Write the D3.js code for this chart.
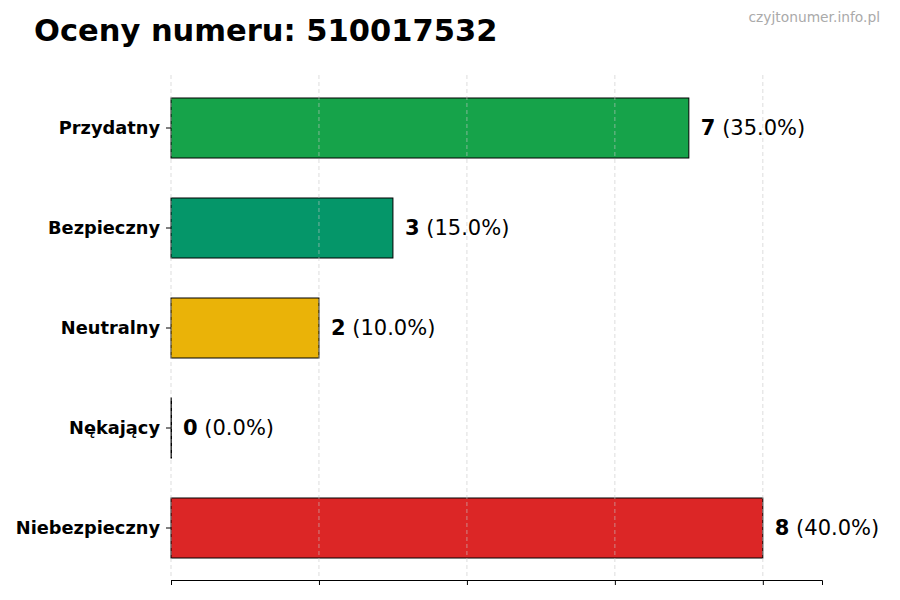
<!DOCTYPE html>
<html lang="pl">
<head>
<meta charset="UTF-8">
<title>Oceny numeru</title>
<script src="https://d3js.org/d3.v7.min.js"></script>
<style>
    body { margin: 0; background: #fff; font-family: "DejaVu Sans", sans-serif; }
    .grid line { stroke: #c8c8c8; stroke-dasharray: 4,3; stroke-width: 0.8; }
    .ylab { font-size: 17.8px; font-weight: bold; text-anchor: end; }
    .val { font-size: 21px; }
</style>
</head>
<body>
<svg id="chart" width="900" height="600"></svg>
<script>
    const categories = ["Przydatny", "Bezpieczny", "Neutralny", "Nękający", "Niebezpieczny"];
    const counts = [7, 3, 2, 0, 8];
    const colors = ["#16a34a", "#059669", "#eab308", "#dc2626", "#dc2626"];
    const xTicks = [0, 2, 4, 6, 8];
    const total = d3.sum(counts);

    const margin = {top: 78, right: 78, bottom: 22, left: 171},
          width = 900 - margin.left - margin.right,
          height = 600 - margin.top - margin.bottom;

    const svg = d3.select("#chart");
    const g = svg.append("g").attr("transform", `translate(${margin.left},${margin.top})`);

    const x = d3.scaleLinear().domain([0, 8.8]).range([0, width]);
    const y = d3.scaleBand().domain(categories).range([0, height]).paddingInner(0.4).paddingOuter(0.2);

    // title + watermark
    svg.append("text").attr("x", 34).attr("y", 41)
        .style("font-size", "30.5px").style("font-weight", "bold")
        .text("Oceny numeru: 510017532");
    svg.append("text").attr("x", 880).attr("y", 22).attr("text-anchor", "end")
        .style("font-size", "13.8px").style("fill", "#aaaaaa")
        .text("czyjtonumer.info.pl");

    // bars (zero-width ones still show their edge)
    g.selectAll(".bar")
        .data(categories)
        .enter().append("rect")
        .attr("class", "bar")
        .attr("x", x(0))
        .attr("y", d => y(d))
        .attr("width", (d, i) => Math.max(x(counts[i]) - x(0), 0.5))
        .attr("height", y.bandwidth())
        .attr("fill", (d, i) => colors[i])
        .attr("stroke", "#000")
        .attr("stroke-width", 1);

    // vertical grid (drawn faintly over bars)
    g.append("g").attr("class", "grid")
        .selectAll("line")
        .data(xTicks)
        .enter().append("line")
        .attr("x1", d => x(d)).attr("x2", d => x(d))
        .attr("y1", -3).attr("y2", height)
        .attr("opacity", 0.75);

    // bottom axis, no labels
    g.append("g")
        .attr("transform", `translate(0,${height + 2})`)
        .call(d3.axisBottom(x).tickValues(xTicks).tickFormat("").tickSizeOuter(0).tickSize(5))
        .call(a => a.select(".domain").attr("stroke", "#000"));

    // y ticks and labels
    const yt = g.append("g");
    yt.selectAll("line")
        .data(categories)
        .enter().append("line")
        .attr("x1", -5).attr("x2", 0)
        .attr("y1", d => y(d) + y.bandwidth() / 2)
        .attr("y2", d => y(d) + y.bandwidth() / 2)
        .attr("stroke", "#000");
    yt.selectAll("text")
        .data(categories)
        .enter().append("text")
        .attr("class", "ylab")
        .attr("x", -11)
        .attr("y", d => y(d) + y.bandwidth() / 2)
        .attr("dy", "0.35em")
        .text(d => d);

    // value labels
    const vl = g.selectAll(".val")
        .data(categories)
        .enter().append("text")
        .attr("class", "val")
        .attr("x", (d, i) => x(counts[i]) + 12)
        .attr("y", d => y(d) + y.bandwidth() / 2)
        .attr("dy", "0.35em");
    vl.append("tspan").style("font-weight", "bold").text((d, i) => counts[i]);
    vl.append("tspan").text((d, i) => ` (${(counts[i] / total * 100).toFixed(1)}%)`);
</script>
</body>
</html>
